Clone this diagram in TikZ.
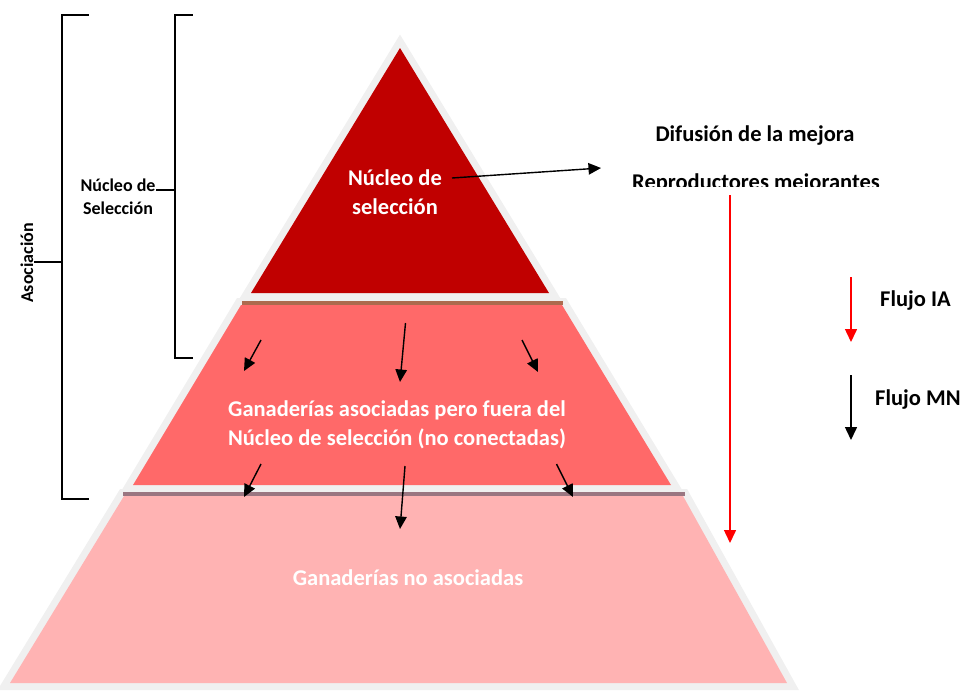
\documentclass[tikz,border=0pt]{standalone}
\usepackage{fontspec}
\setmainfont{Carlito}
\usetikzlibrary{arrows.meta}
\definecolor{nucleo}{HTML}{C00000}
\definecolor{asoc}{HTML}{FF6969}
\definecolor{noasoc}{HTML}{FFB3B3}
\definecolor{rim}{HTML}{F0F0F0}
\definecolor{brownline}{HTML}{AD6A4E}
\definecolor{purpline}{HTML}{9A7681}
\definecolor{flowred}{HTML}{FF0000}
\begin{document}
\begin{tikzpicture}[x=1pt,y=-1pt,
  big/.style={font=\fontsize{22.5}{29}\selectfont\bfseries, inner sep=0pt},
  small/.style={font=\fontsize{18}{23}\selectfont\bfseries, inner sep=0pt},
  flow/.style={-{Triangle[length=12.5pt,width=11.5pt]}, line width=1.4pt},
  flowr/.style={-{Triangle[length=13pt,width=12pt]}, line width=1.5pt, draw=flowred, fill=flowred},
  flowb/.style={-{Triangle[length=13pt,width=12pt]}, line width=1.5pt, draw=black},
  bracket/.style={line width=1.8pt, line cap=rect},
  rimstroke/.style={draw=rim, line width=14pt, line join=miter}]
\useasboundingbox (0,0) rectangle (963,691);

% rims
\path[rimstroke] (400,48) -- (549,293) -- (251,293) -- cycle;
\path[rimstroke] (241,305) -- (562,305) -- (671,485) -- (133,485) -- cycle;
\path[rimstroke] (124,496) -- (683,496) -- (787,683) -- (10,683) -- cycle;
% layers
\fill[nucleo] (400,48) -- (549,293) -- (251,293) -- cycle;
\fill[asoc] (241,305) -- (562,305) -- (671,485) -- (133,485) -- cycle;
\fill[noasoc] (124,496) -- (683,496) -- (787,683) -- (10,683) -- cycle;
\fill[brownline] (242,300.5) rectangle (563,305);
\fill[purpline] (123,491.5) rectangle (685,496);

% texts in pyramid
\node[big, white, align=center] (ntext) at (395,192) {Núcleo de\\selección};
\node[big, white, align=center] (mtext) at (397,425) {Ganaderías asociadas pero fuera del\\Núcleo de selección (no conectadas)};
\node[big, white, anchor=base] (btext) at (408,585) {Ganaderías no asociadas};

% right texts
\node[big, anchor=base] (difusion) at (755,141.5) {Difusión de la mejora};
\begin{scope}
  \clip (600,150) rectangle (900,186);
  \node[big, anchor=base] (repro) at (756,189) {Reproductores mejorantes};
\end{scope}
\node[big, anchor=base west] (fia) at (880,306) {Flujo IA};
\node[big, anchor=base west] (fmn) at (875,405) {Flujo MN};

% arrow to reproductores
\coordinate (nOut) at (452,178);
\coordinate (rIn) at (601,168);
\draw[flow] (nOut) -- (rIn);

% long red arrow
\coordinate (redTop) at (730,195);
\coordinate (redBot) at (730,543);
\draw[flowr] (redTop) -- (redBot);

% legend arrows
\coordinate (lrA) at (851,277);
\coordinate (lrB) at (851,342);
\draw[flowr] (lrA) -- (lrB);
\coordinate (lbA) at (851,375);
\coordinate (lbB) at (851,440);
\draw[flowb] (lbA) -- (lbB);

% small arrows upper
\coordinate (a1s) at (261,340); \coordinate (a1e) at (244,371);
\coordinate (a2s) at (405.5,323); \coordinate (a2e) at (400,382);
\coordinate (a3s) at (522,340); \coordinate (a3e) at (538,372);
\draw[flow] (a1s) -- (a1e);
\draw[flow] (a2s) -- (a2e);
\draw[flow] (a3s) -- (a3e);
% small arrows lower
\coordinate (b1s) at (261,464); \coordinate (b1e) at (244,497);
\coordinate (b2s) at (405,466); \coordinate (b2e) at (400,529);
\coordinate (b3s) at (556.5,464); \coordinate (b3e) at (573,497);
\draw[flow] (b1s) -- (b1e);
\draw[flow] (b2s) -- (b2e);
\draw[flow] (b3s) -- (b3e);

% brackets
\coordinate (oTopEnd) at (88,15); \coordinate (oTop) at (62,15);
\coordinate (oBot) at (62,499); \coordinate (oBotEnd) at (88,499);
\draw[bracket] (oTopEnd) -- (oTop) -- (oBot) -- (oBotEnd);
\node[small, rotate=90, anchor=base] (asocl) at (33,263) {Asociación};
\coordinate (asocTick) at (35,262);
\draw[bracket] (asocTick) -- (asocTick -| oTop);

\coordinate (iTopEnd) at (192,15); \coordinate (iTop) at (175,15);
\coordinate (iBot) at (175,358); \coordinate (iBotEnd) at (192,358);
\draw[bracket] (iTopEnd) -- (iTop) -- (iBot) -- (iBotEnd);
\node[small, align=center] (nsel) at (118,197) {Núcleo de\\Selección};
\coordinate (nselTick) at (157,190);
\draw[bracket] (nselTick) -- (nselTick -| iTop);
\end{tikzpicture}
\end{document}
